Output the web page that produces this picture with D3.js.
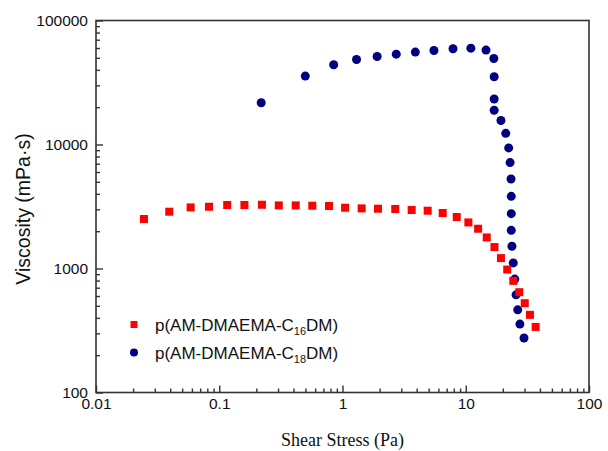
<!DOCTYPE html>
<html>
<head>
<meta charset="utf-8">
<script src="https://cdn.jsdelivr.net/npm/d3@7"></script>
<style>
  body { margin: 0; background: #fff; }
  svg { display: block; }
</style>
</head>
<body>
<div id="chart"></div>
<script>
// shear stress (Pa) and viscosity (mPa.s)
var c16Stress = [0.0245, 0.0393, 0.0586, 0.0826, 0.116, 0.160, 0.222, 0.304, 0.417, 0.569,
  0.777, 1.05, 1.43, 1.94, 2.68, 3.64, 4.91, 6.50, 8.45, 10.5,
  12.6, 14.8, 17.1, 19.3, 21.7, 24.3, 27.2, 30.1, 33.2, 36.9];
var c16Visc = [2506, 2871, 3110, 3148, 3251, 3251, 3268, 3227, 3227, 3210,
  3192, 3091, 3053, 3035, 3019, 2963, 2925, 2803, 2601, 2353,
  2093, 1780, 1489, 1213, 981, 795, 644, 525, 423, 338];

var c18Stress = [0.219, 0.499, 0.848, 1.30, 1.91, 2.73, 3.90, 5.52, 7.88, 11.0,
  14.6, 16.9, 17.0, 17.0, 17.0, 19.3, 21.1, 22.3, 22.9, 23.3,
  23.4, 23.4, 23.4, 23.7, 24.3, 25.0, 25.6, 26.4, 27.5, 29.7];
var c18Visc = [21700, 35600, 44000, 48500, 51300, 53500, 55600, 57300, 59200, 59800,
  57700, 49400, 35200, 23300, 18900, 15600, 12300, 9390, 7150, 5270,
  3820, 2770, 2030, 1510, 1110, 821, 613, 464, 356, 275];

var xTicks = [0.01, 0.1, 1, 10, 100];
var yTicks = [100, 1000, 10000, 100000];
var xTickLabels = ["0.01", "0.1", "1", "10", "100"];
var yTickLabels = ["100", "1000", "10000", "100000"];

var svgWidth = 608, svgHeight = 451;
var margin = { top: 20.5, right: 19, bottom: 58.5, left: 96 };
var width = svgWidth - margin.left - margin.right;
var height = svgHeight - margin.top - margin.bottom;

var svg = d3.select("#chart").append("svg")
    .attr("width", svgWidth)
    .attr("height", svgHeight);

var g = svg.append("g")
    .attr("transform", "translate(" + margin.left + "," + margin.top + ")");

var xScale = d3.scaleLog().domain([0.01, 100]).range([0, width]);
var yScale = d3.scaleLog().domain([100, 100000]).range([height, 0]);

// minor ticks: 2..9 in every decade
function minors(lo, hi) {
    var out = [];
    for (var d = lo; d < hi; d *= 10) {
        for (var k = 2; k <= 9; k++) out.push(d * k);
    }
    return out;
}

var axisColor = "#333";
var labelFont = "'Liberation Sans', Arial, sans-serif";

// frame
g.append("rect")
    .attr("width", width)
    .attr("height", height)
    .attr("fill", "none")
    .attr("stroke", axisColor)
    .attr("stroke-width", 1.6);

// minor ticks
g.append("g")
    .attr("transform", "translate(0," + height + ")")
    .call(d3.axisBottom(xScale).tickValues(minors(0.01, 100)).tickSize(-4).tickFormat(""))
    .call(a => a.select(".domain").remove());
g.append("g")
    .call(d3.axisLeft(yScale).tickValues(minors(100, 100000)).tickSize(-4).tickFormat(""))
    .call(a => a.select(".domain").remove());

// major ticks with labels
var xAxis = g.append("g")
    .attr("transform", "translate(0," + height + ")")
    .call(d3.axisBottom(xScale).tickValues(xTicks).tickSize(-7).tickPadding(5)
        .tickFormat((d, i) => xTickLabels[i]));
var yAxis = g.append("g")
    .call(d3.axisLeft(yScale).tickValues(yTicks).tickSize(-7).tickPadding(8)
        .tickFormat((d, i) => yTickLabels[i]));

[xAxis, yAxis].forEach(function (a) {
    a.select(".domain").remove();
    a.selectAll("text").attr("font-family", labelFont).attr("font-size", 15.5).attr("fill", "#111");
});
g.selectAll(".tick line").attr("stroke", axisColor).attr("stroke-width", 1.4);

// C18 circles
g.selectAll("circle.c18")
    .data(c18Stress.map((s, i) => [s, c18Visc[i]]))
    .enter().append("circle")
    .attr("class", "c18")
    .attr("cx", d => xScale(d[0]))
    .attr("cy", d => yScale(d[1]))
    .attr("r", 4.5)
    .attr("fill", "#000080");

// C16 squares
var sq = 8;
g.selectAll("rect.c16")
    .data(c16Stress.map((s, i) => [s, c16Visc[i]]))
    .enter().append("rect")
    .attr("class", "c16")
    .attr("x", d => xScale(d[0]) - sq / 2)
    .attr("y", d => yScale(d[1]) - sq / 2)
    .attr("width", sq)
    .attr("height", sq)
    .attr("fill", "#ff0000");

// axis titles
svg.append("text")
    .attr("x", margin.left + width / 2)
    .attr("y", 446)
    .attr("text-anchor", "middle")
    .attr("font-family", "'Liberation Serif', 'Times New Roman', serif")
    .attr("font-size", 18)
    .attr("fill", "#111")
    .text("Shear Stress (Pa)");

svg.append("text")
    .attr("transform", "translate(30,209) rotate(-90)")
    .attr("text-anchor", "middle")
    .attr("font-family", labelFont)
    .attr("font-size", 19.5)
    .attr("fill", "#111")
    .text("Viscosity (mPa\u00b7s)");

// legend
var legend = svg.append("g").attr("transform", "translate(134,324.5)");
var items = [
    { sub: "16", color: "#ff0000", shape: "square" },
    { sub: "18", color: "#000080", shape: "circle" }
];
items.forEach(function (it, i) {
    var row = legend.append("g").attr("transform", "translate(0," + (i * 28) + ")");
    if (it.shape === "square") {
        row.append("rect").attr("x", -3.5).attr("y", -3.5).attr("width", 7).attr("height", 7).attr("fill", it.color);
    } else {
        row.append("circle").attr("r", 4).attr("fill", it.color);
    }
    var t = row.append("text")
        .attr("x", 21)
        .attr("y", 6)
        .attr("font-family", labelFont)
        .attr("font-size", 17)
        .attr("fill", "#111");
    t.append("tspan").text("p(AM-DMAEMA-C");
    t.append("tspan").attr("font-size", 11).attr("dy", 4).text(it.sub);
    t.append("tspan").attr("dy", -4).text("DM)");
});
</script>
</body>
</html>
